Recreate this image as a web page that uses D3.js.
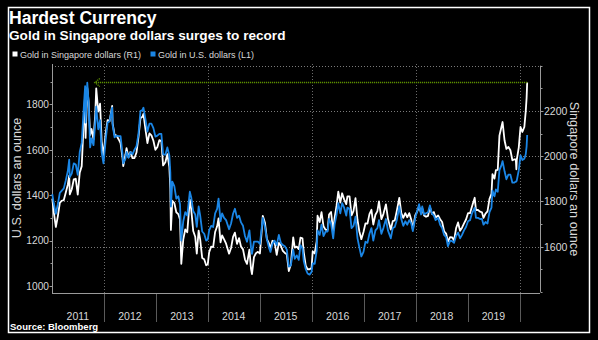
<!DOCTYPE html>
<html><head><meta charset="utf-8">
<script src="https://cdn.jsdelivr.net/npm/d3@7"></script>
<style>html,body{margin:0;padding:0;background:#000;}svg{display:block;}</style>
</head><body>
<svg id="chart" width="598" height="340"></svg>
<script>
// ---------------- DATA ----------------
const dates = [
 "2011-01-03","2011-01-14","2011-01-28","2011-02-11","2011-02-25","2011-03-11","2011-03-25","2011-04-08","2011-04-22","2011-05-02",
 "2011-05-06","2011-05-20","2011-06-03","2011-06-17","2011-07-01","2011-07-15","2011-07-29","2011-08-10","2011-08-22","2011-08-25",
 "2011-09-06","2011-09-15","2011-09-26","2011-10-06","2011-10-20","2011-11-01","2011-11-08","2011-11-22","2011-12-05","2011-12-16","2011-12-29",
 "2012-01-13","2012-01-27","2012-02-10","2012-02-28","2012-03-02","2012-03-16","2012-03-30","2012-04-13","2012-04-27","2012-05-11",
 "2012-05-16","2012-05-31","2012-06-08","2012-06-22","2012-07-06","2012-07-20","2012-08-03","2012-08-17","2012-08-31","2012-09-14",
 "2012-09-28","2012-10-05","2012-10-19","2012-11-02","2012-11-16","2012-11-30","2012-12-14","2012-12-28",
 "2013-01-11","2013-01-25","2013-02-08","2013-02-20","2013-03-08","2013-03-22","2013-04-05","2013-04-12","2013-04-16","2013-04-26",
 "2013-05-10","2013-05-24","2013-06-07","2013-06-19","2013-06-28","2013-07-12","2013-07-26","2013-08-09","2013-08-27","2013-09-06",
 "2013-09-20","2013-10-04","2013-10-15","2013-10-28","2013-11-08","2013-11-22","2013-12-06","2013-12-20","2013-12-31",
 "2014-01-10","2014-01-24","2014-02-07","2014-02-21","2014-03-07","2014-03-17","2014-03-31","2014-04-11","2014-04-25","2014-05-09",
 "2014-05-30","2014-06-13","2014-06-27","2014-07-10","2014-07-25","2014-08-08","2014-08-22","2014-09-05","2014-09-19","2014-10-03",
 "2014-10-20","2014-10-31","2014-11-07","2014-11-21","2014-12-05","2014-12-19",
 "2015-01-02","2015-01-16","2015-01-22","2015-02-06","2015-02-20","2015-03-06","2015-03-17","2015-03-31","2015-04-15","2015-04-30",
 "2015-05-15","2015-05-29","2015-06-12","2015-06-26","2015-07-10","2015-07-24","2015-08-07","2015-08-24","2015-09-04","2015-09-18",
 "2015-10-02","2015-10-14","2015-10-28","2015-11-06","2015-11-20","2015-12-03","2015-12-17","2015-12-31",
 "2016-01-08","2016-01-22","2016-02-05","2016-02-11","2016-02-26","2016-03-10","2016-03-24","2016-04-08","2016-04-22","2016-05-02",
 "2016-05-16","2016-05-31","2016-06-10","2016-06-24","2016-07-06","2016-07-20","2016-08-02","2016-08-16","2016-08-31","2016-09-08",
 "2016-09-23","2016-10-07","2016-10-21","2016-11-04","2016-11-18","2016-12-01","2016-12-15","2016-12-30",
 "2017-01-13","2017-01-27","2017-02-10","2017-02-24","2017-03-09","2017-03-24","2017-04-07","2017-04-18","2017-05-05","2017-05-19",
 "2017-06-06","2017-06-20","2017-07-10","2017-07-24","2017-08-07","2017-08-21","2017-09-08","2017-09-22","2017-10-06","2017-10-20",
 "2017-11-03","2017-11-17","2017-12-01","2017-12-12","2017-12-29",
 "2018-01-12","2018-01-25","2018-02-08","2018-02-16","2018-03-01","2018-03-15","2018-03-29","2018-04-11","2018-04-25","2018-05-09",
 "2018-05-21","2018-06-08","2018-06-22","2018-07-06","2018-07-20","2018-08-03","2018-08-16","2018-08-31","2018-09-14","2018-09-28",
 "2018-10-12","2018-10-26","2018-11-09","2018-11-23","2018-12-07","2018-12-21",
 "2019-01-04","2019-01-18","2019-02-01","2019-02-20","2019-03-01","2019-03-15","2019-03-29","2019-04-12","2019-04-23","2019-05-07",
 "2019-05-21","2019-06-04","2019-06-18","2019-06-25","2019-07-09","2019-07-19","2019-08-01","2019-08-13","2019-08-26","2019-09-04",
 "2019-09-18","2019-10-01","2019-10-15","2019-10-29","2019-11-12","2019-11-26","2019-12-06","2019-12-10","2019-12-13","2019-12-27",
 "2020-01-08","2020-01-21","2020-02-04","2020-02-14","2020-02-20","2020-02-24"
];
// Gold in U.S. dollars (left axis)
const usdValues = [
 1405,1362,1318,1360,1410,1420,1430,1465,1505,1556,
 1480,1495,1540,1535,1490,1590,1630,1760,1880,1720,
 1895,1810,1610,1650,1620,1720,1790,1690,1730,1590,1540,
 1640,1720,1725,1785,1710,1655,1662,1660,1660,1580,
 1540,1560,1590,1565,1590,1580,1600,1615,1670,1770,
 1775,1785,1735,1680,1715,1715,1695,1658,
 1662,1670,1670,1580,1578,1610,1575,1500,1350,1460,
 1440,1385,1395,1360,1200,1285,1325,1310,1415,1390,
 1330,1315,1260,1350,1310,1240,1230,1200,1205,
 1245,1265,1260,1320,1340,1385,1285,1320,1300,1290,
 1250,1275,1318,1340,1300,1310,1280,1265,1220,1195,
 1245,1170,1142,1195,1195,1195,
 1185,1265,1300,1260,1205,1170,1150,1185,1200,1180,
 1225,1190,1180,1175,1160,1085,1090,1160,1120,1135,
 1115,1180,1165,1110,1075,1055,1050,1062,
 1100,1098,1155,1245,1225,1270,1220,1240,1240,1295,
 1275,1210,1270,1315,1365,1320,1365,1345,1310,1345,
 1340,1255,1265,1305,1210,1170,1130,1150,
 1195,1190,1230,1255,1200,1245,1255,1290,1230,1255,
 1295,1245,1210,1255,1260,1290,1350,1295,1265,1285,
 1270,1290,1275,1242,1300,
 1330,1360,1315,1350,1315,1320,1325,1355,1320,1310,
 1290,1300,1270,1255,1225,1215,1175,1200,1198,1190,
 1220,1235,1210,1225,1245,1260,
 1285,1290,1320,1345,1300,1300,1295,1295,1270,1282,
 1275,1325,1345,1420,1395,1425,1415,1510,1530,1550,
 1505,1470,1490,1490,1455,1455,1460,1460,1465,1510,
 1575,1555,1560,1580,1615,1665
];
// Gold in Singapore dollars (right axis)
const sgdValues = [
 1812,1750,1687,1734,1794,1803,1806,1839,1874,1914,
 1831,1854,1897,1900,1830,1927,1956,2124,2275,2081,
 2302,2244,2093,2120,2074,2184,2300,2197,2232,2067,2002,
 2099,2159,2156,2222,2146,2094,2091,2075,2058,1991,
 1956,2005,2035,1995,2019,1991,1992,2016,2084,2168,
 2174,2187,2120,2058,2101,2092,2068,2028,
 2041,2071,2067,1959,1973,2009,1953,1857,1674,1803,
 1793,1752,1744,1720,1524,1632,1676,1664,1808,1765,
 1669,1644,1569,1671,1631,1550,1544,1518,1522,
 1575,1600,1598,1665,1690,1725,1619,1650,1632,1613,
 1569,1594,1643,1662,1612,1638,1600,1588,1543,1524,
 1587,1503,1479,1554,1571,1577,
 1570,1682,1736,1707,1633,1615,1593,1626,1620,1564,
 1617,1604,1581,1572,1566,1492,1521,1641,1596,1600,
 1589,1640,1637,1576,1516,1500,1500,1506,
 1579,1570,1623,1737,1709,1753,1690,1674,1674,1742,
 1753,1670,1727,1782,1843,1795,1836,1809,1788,1822,
 1822,1738,1758,1814,1718,1667,1633,1665,
 1703,1702,1744,1763,1698,1741,1757,1800,1722,1744,
 1787,1724,1676,1713,1716,1757,1816,1748,1727,1748,
 1730,1748,1719,1677,1738,
 1756,1778,1749,1769,1738,1732,1736,1775,1745,1753,
 1729,1738,1721,1709,1668,1658,1622,1642,1641,1628,
 1681,1707,1670,1684,1703,1720,
 1748,1748,1778,1816,1762,1762,1755,1752,1727,1746,
 1756,1811,1833,1921,1901,1938,1939,2091,2127,2151,
 2069,2032,2041,2026,1982,1986,1986,1942,1985,2039,
 2129,2107,2129,2199,2258,2326
];
const seriesNames = ["Gold in Singapore dollars (R1)", "Gold in U.S. dollars (L1)"];
const leftTicks = [1000,1100,1200,1300,1400,1500,1600,1700,1800,1900];
const leftLabels = [1000,1200,1400,1600,1800];
const rightTicks = [1400,1500,1600,1700,1800,1900,2000,2100,2200,2300,2400];
const rightLabels = [1600,1800,2000,2200];
const gridValues = [1600,1800,2000,2200,2400];
const yearLabels = ["2011","2012","2013","2014","2015","2016","2017","2018","2019"];
const yearBoundaries = ["2012","2013","2014","2015","2016","2017","2018","2019","2020"];
const gridYears = ["2012","2014","2016","2018","2020"];
const recordTargetDate = "2011-10-29";

// ---------------- CHART ----------------
const FONT = "'Liberation Sans', Arial, sans-serif";
const svg = d3.select("#chart");
const parse = d3.utcParse("%Y-%m-%d");
const T = { top: 64, bottom: 293, left: 52, right: 540 };

const x = d3.scaleUtc()
  .domain([Date.UTC(2011,0,1), Date.UTC(2020,0,1)])
  .range([52, 519.5]);
const yL = d3.scaleLinear().domain([969.2, 1977.5]).range([T.bottom, T.top]);
const yR = d3.scaleLinear().domain([1395.1, 2407.5]).range([T.bottom, T.top]);

svg.append("rect").attr("width",598).attr("height",340).attr("fill","#000");

// border
svg.append("rect").attr("x",8.5).attr("y",7.5).attr("width",581).attr("height",325)
  .attr("fill","none").attr("stroke","#fff").attr("stroke-width",1.5);

// titles
svg.append("text").attr("x",9).attr("y",23.5).text("Hardest Currency")
  .attr("fill","#fff").attr("font-family",FONT).attr("font-weight","bold").attr("font-size",17.6);
svg.append("text").attr("x",9).attr("y",39.5).text("Gold in Singapore dollars surges to record")
  .attr("fill","#fff").attr("font-family",FONT).attr("font-weight","bold").attr("font-size",13.6);

// legend
const legendColors = ["#ffffff", "#1a86e6"];
const legendX = [12.5, 150.5];
seriesNames.forEach((n,i) => {
  svg.append("rect").attr("x",legendX[i]).attr("y",51.5).attr("width",5).attr("height",5).attr("fill",legendColors[i]);
  svg.append("text").attr("x",legendX[i]+7.5).attr("y",57.5).text(n)
    .attr("fill","#d8d8d8").attr("font-family",FONT).attr("font-size",9);
});

// grid lines
const grid = svg.append("g");
grid.selectAll("line.h").data(gridValues).join("line")
  .attr("x1",T.left).attr("x2",T.right)
  .attr("y1",d=>Math.round(yR(d))+0.5).attr("y2",d=>Math.round(yR(d))+0.5)
  .attr("stroke","#7a7a7a").attr("stroke-width",1).attr("stroke-dasharray","1,2");
grid.selectAll("line.v").data(gridYears).join("line")
  .attr("x1",d=>Math.round(x(parse(d+"-01-01")))+0.5).attr("x2",d=>Math.round(x(parse(d+"-01-01")))+0.5)
  .attr("y1",T.top).attr("y2",T.bottom)
  .attr("stroke","#6a6a6a").attr("stroke-width",1).attr("stroke-dasharray","1,2");

// bottom axis
const axisColor = "#9a9a9a";
svg.append("line").attr("x1",T.left).attr("x2",T.right).attr("y1",T.bottom+0.5).attr("y2",T.bottom+0.5)
  .attr("stroke",axisColor).attr("stroke-width",1);
svg.selectAll("line.yt").data(yearBoundaries).join("line")
  .attr("x1",d=>Math.round(x(parse(d+"-01-01")))+0.5).attr("x2",d=>Math.round(x(parse(d+"-01-01")))+0.5)
  .attr("y1",T.bottom+1).attr("y2",322)
  .attr("stroke","#5a5a5a").attr("stroke-width",1);
svg.selectAll("text.yl").data(yearLabels).join("text")
  .attr("x",d=>x(parse(d+"-07-02"))).attr("y",320)
  .attr("text-anchor","middle").text(d=>d)
  .attr("fill","#d8d8d8").attr("font-family",FONT).attr("font-size",10.5);

// left axis
const gL = svg.append("g").attr("transform",`translate(${T.left+0.5},0)`);
gL.append("line").attr("y1",T.top).attr("y2",T.bottom).attr("stroke",axisColor);
gL.call(g => g.selectAll("line.t").data(leftTicks).join("line")
  .attr("x1",d=>leftLabels.includes(d)?-3:-2).attr("x2",0)
  .attr("y1",d=>Math.round(yL(d))+0.5).attr("y2",d=>Math.round(yL(d))+0.5)
  .attr("stroke",axisColor));
const axL = d3.axisLeft(yL).tickValues(leftLabels).tickSize(0).tickPadding(3).tickFormat(d3.format("d"));
const gLa = svg.append("g").attr("transform",`translate(${T.left},0)`).call(axL);
gLa.select(".domain").remove();
gLa.selectAll("text").attr("fill","#d8d8d8").attr("font-family",FONT).attr("font-size",10.2);

// right axis
const gR = svg.append("g").attr("transform",`translate(${T.right+0.5},0)`);
gR.append("line").attr("y1",yR(2400)).attr("y2",yR(1400)).attr("stroke",axisColor);
gR.selectAll("line.t").data(rightTicks).join("line")
  .attr("x1",0).attr("x2",d=>rightLabels.includes(d)?3:2)
  .attr("y1",d=>Math.round(yR(d))+0.5).attr("y2",d=>Math.round(yR(d))+0.5)
  .attr("stroke",axisColor);
const axR = d3.axisRight(yR).tickValues(rightLabels).tickSize(0).tickPadding(4).tickFormat(d3.format("d"));
const gRa = svg.append("g").attr("transform",`translate(${T.right},0)`).call(axR);
gRa.select(".domain").remove();
gRa.selectAll("text").attr("fill","#d8d8d8").attr("font-family",FONT).attr("font-size",10.5);

// axis titles
svg.append("text").attr("transform","translate(21,178) rotate(-90)").attr("text-anchor","middle")
  .text("U.S. dollars an ounce").attr("fill","#d8d8d8").attr("font-family",FONT).attr("font-size",12.6);
svg.append("text").attr("transform","translate(570,179) rotate(90)").attr("text-anchor","middle")
  .text("Singapore dollars an ounce").attr("fill","#d8d8d8").attr("font-family",FONT).attr("font-size",12.7);

// series
const pts = dates.map((d,i)=>({date:parse(d), usd:usdValues[i], sgd:sgdValues[i]}));
svg.append("path").datum(pts)
  .attr("d", d3.line().x(d=>x(d.date)).y(d=>yR(d.sgd)))
  .attr("fill","none").attr("stroke","#ffffff").attr("stroke-width",1.8).attr("stroke-linejoin","round");
svg.append("path").datum(pts)
  .attr("d", d3.line().x(d=>x(d.date)).y(d=>yL(d.usd)))
  .attr("fill","none").attr("stroke","#1a86e6").attr("stroke-width",1.8).attr("stroke-linejoin","round");

// record line with arrow
const last = pts[pts.length-1];
const ry = yR(last.sgd);
const tipX = x(parse(recordTargetDate));
const green = "#5c8f00";
svg.append("line").attr("x1",x(last.date)).attr("x2",tipX).attr("y1",ry).attr("y2",ry)
  .attr("stroke",green).attr("stroke-width",1.6).attr("stroke-dasharray","1.2,0.8");
svg.append("path").attr("d",`M${tipX+5},${ry-4}L${tipX},${ry}L${tipX+5},${ry+4}`)
  .attr("fill","none").attr("stroke",green).attr("stroke-width",1.4).attr("stroke-dasharray","1.2,0.8");

// source
svg.append("text").attr("x",10).attr("y",329.5).text("Source: Bloomberg")
  .attr("fill","#fff").attr("font-family",FONT).attr("font-weight","bold").attr("font-size",9.5);
</script>
</body></html>
